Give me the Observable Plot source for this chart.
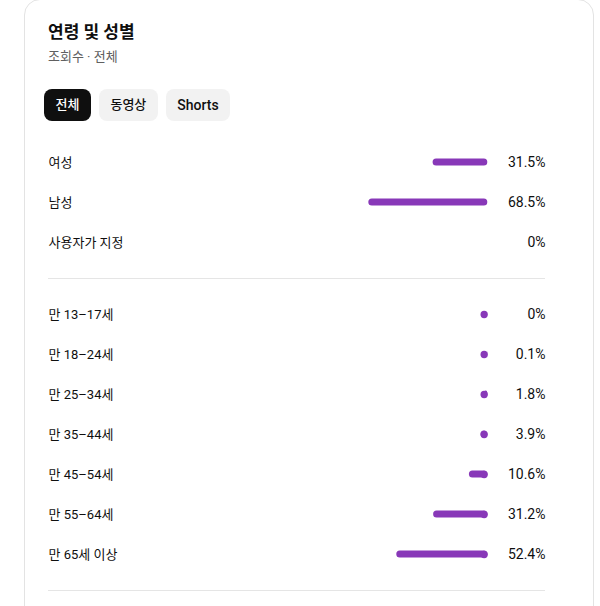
<!DOCTYPE html>
<html><head><meta charset="utf-8">
<script src="https://cdn.jsdelivr.net/npm/d3@7"></script>
<script src="https://cdn.jsdelivr.net/npm/@observablehq/plot@0.6"></script>
<style>
  html,body{margin:0;padding:0;background:#fff;width:600px;height:606px;overflow:hidden;font-family:Roboto,"Noto Sans CJK KR",sans-serif;color:#0f0f0f;}
  .card{position:absolute;left:24px;top:-1px;width:568px;height:700px;border:1px solid #e3e3e3;border-radius:16px;}
  .title{position:absolute;left:48px;top:21px;font-size:17px;font-weight:700;line-height:22px;}
  .sub{position:absolute;left:48px;top:48px;font-size:13px;color:#606060;line-height:18px;}
  .btns{position:absolute;left:44px;top:89px;display:flex;gap:8px;}
  .btn{height:32px;line-height:32px;padding:0 11.5px;border-radius:8px;background:#f2f2f2;font-size:13px;font-weight:500;}
  .btn.en{font-size:14px;}
  .btn.on{background:#0f0f0f;color:#fff;}
  .div{position:absolute;left:48px;width:497px;height:1px;background:#e5e5e5;}
  .plot{position:absolute;left:0;}
</style></head>
<body>
<div class="card"></div>
<div class="title">연령 및 성별</div>
<div class="sub">조회수 · 전체</div>
<div class="btns"><div class="btn on">전체</div><div class="btn">동영상</div><div class="btn en">Shorts</div></div>
<div id="g" class="plot" style="top:142px"></div>
<div class="div" style="top:278px"></div>
<div id="a" class="plot" style="top:294px"></div>
<div class="div" style="top:590px"></div>
<script>
const genderLabels = ["여성", "남성", "사용자가 지정"];
const genderValues = [31.5, 68.5, 0];
const genderText = ["31.5%", "68.5%", "0%"];
const ageLabels = ["만 13–17세", "만 18–24세", "만 25–34세", "만 35–44세", "만 45–54세", "만 55–64세", "만 65세 이상"];
const ageValues = [0, 0.1, 1.8, 3.9, 10.6, 31.2, 52.4];
const ageText = ["0%", "0.1%", "1.8%", "3.9%", "10.6%", "31.2%", "52.4%"];

const purple = "#8838b8";
const font = 'Roboto,"Noto Sans CJK KR",sans-serif';

function rows(labels, values, texts){ return labels.map((l,i)=>({label:l, value:values[i], text:texts[i]})); }

function make(data, withDot){
  const marks = [
    Plot.barX(data, {y:"label", x1:0, x2:"value", fill:purple, rx:3.5, insetTop:16.5, insetBottom:16.5}),
    Plot.text(data, {y:"label", text:"label", frameAnchor:"left", dx:48, textAnchor:"start", fill:"#0f0f0f", fontSize:13}),
    Plot.text(data, {y:"label", text:"text", frameAnchor:"right", dx:-55, textAnchor:"end", fill:"#0f0f0f", fontSize:14})
  ];
  if (withDot) marks.splice(1,0, Plot.dot(data, {y:"label", x:0, dx:-3.65, r:3.65, fill:purple}));
  return Plot.plot({
    width:600, height:data.length*40,
    margin:0,
    style:{fontFamily:font, fontSize:"14px", background:"transparent"},
    x:{domain:[0,100], range:[487.3, 313.6], axis:null},
    y:{domain:data.map(d=>d.label), axis:null, padding:0},
    marks
  });
}
document.getElementById("g").append(make(rows(genderLabels, genderValues, genderText), false));
document.getElementById("a").append(make(rows(ageLabels, ageValues, ageText), true));
</script>
</body></html>
